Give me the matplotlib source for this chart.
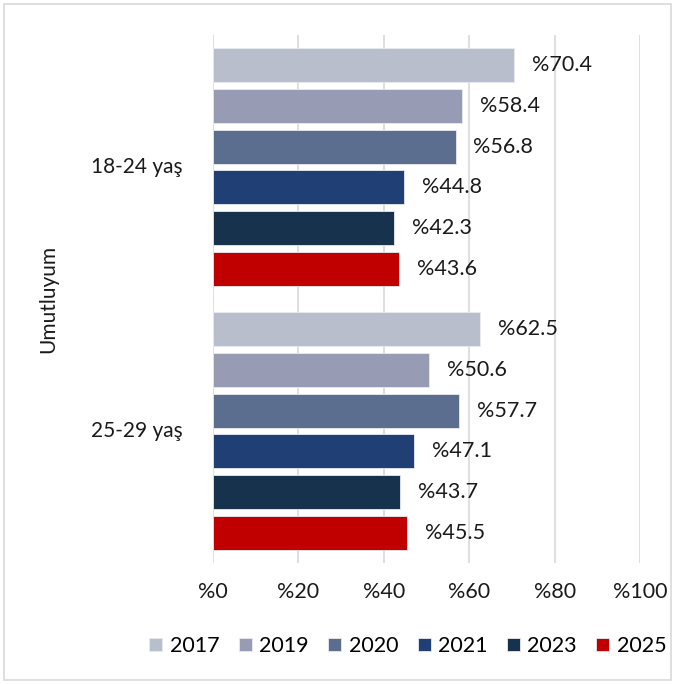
import numpy as np
import matplotlib
matplotlib.use("Agg")
import matplotlib.pyplot as plt
from matplotlib.patches import Rectangle

plt.rcParams['font.family'] = ['Lato', 'DejaVu Sans']

# data
groups = ["18-24 yaş", "25-29 yaş"]
years = ["2017", "2019", "2020", "2021", "2023", "2025"]
values = {
    "2017": [70.4, 62.5],
    "2019": [58.4, 50.6],
    "2020": [56.8, 57.7],
    "2021": [44.8, 47.1],
    "2023": [42.3, 43.7],
    "2025": [43.6, 45.5],
}
colors = ["#B8BECC", "#979BB3", "#5B6E8F", "#1F3F75", "#17324D", "#C00000"]
xticks = [0, 20, 40, 60, 80, 100]
group_title = "Umutluyum"

fig = plt.figure(figsize=(6.75, 6.84), dpi=100)
# axes: x 213..640 px, y 35..563 px
W, H = 675, 684
ax = fig.add_axes([213 / W, 1 - 563 / H, (640 - 213) / W, (563 - 35) / H])

pitch = 40.8 / 264
height = 34 / 264
y0 = np.arange(len(groups))
for i, yr in enumerate(years):
    ypos = y0 - 2.5 * pitch + i * pitch
    bars = ax.barh(ypos, values[yr], height=height, color=colors[i],
                   edgecolor="#E8EAF0", linewidth=0.6, label=yr, zorder=3)
    for b, v in zip(bars, values[yr]):
        ax.text(v + 4.2, b.get_y() + b.get_height() / 2, "%" + f"{v:.1f}",
                va="center", ha="left", fontsize=15.5, color="#1a1a1a")

ax.set_xlim(0, 100)
ax.set_ylim(len(groups) - 0.5, -0.5)
ax.set_xticks(xticks)
ax.set_xticklabels(["%" + str(t) for t in xticks], fontsize=15.5, color="#1a1a1a")
ax.tick_params(axis="x", length=0, pad=14)
ax.set_yticks([])
ax.grid(axis="x", color="#D9D9D9", linewidth=1.2, zorder=0)
for s in ax.spines.values():
    s.set_visible(False)

# group labels
for g, yy in zip(groups, y0):
    ax.text(-0.072, yy, g, transform=ax.get_yaxis_transform(), ha="right",
            va="center", fontsize=15, color="#1a1a1a")
ax.text(-0.385, 0.5, group_title, transform=ax.transAxes, rotation=90,
        ha="center", va="center", fontsize=15, color="#1a1a1a")

leg = fig.legend(loc="center", bbox_to_anchor=(408 / W, 1 - 646 / H), ncol=6,
                 frameon=False, fontsize=15.5, handlelength=0.6, handleheight=0.6,
                 handletextpad=0.35, columnspacing=0.9)

fig.patches.append(Rectangle((4 / W, 4 / H), 1 - 8 / W, 1 - 8 / H,
                             transform=fig.transFigure, fill=False,
                             edgecolor="#D9D9D9", linewidth=1.2))

fig.savefig("out.png", dpi=100)
